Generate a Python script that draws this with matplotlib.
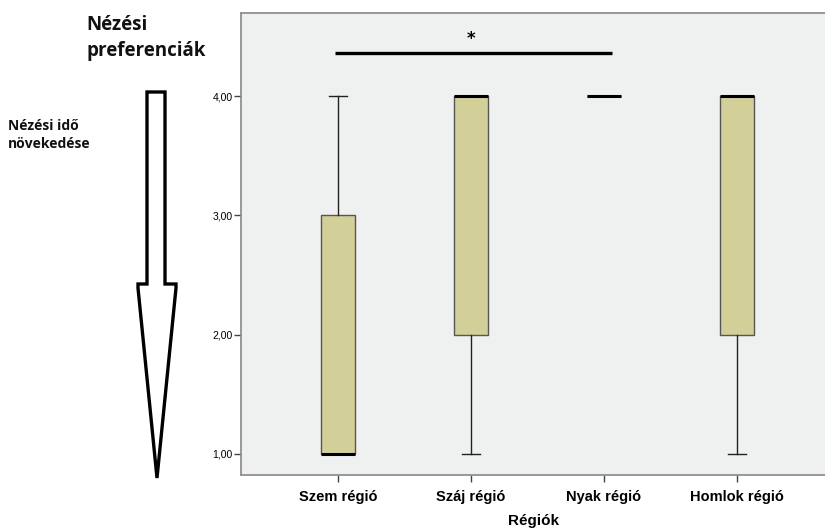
import matplotlib
matplotlib.use("Agg")
import matplotlib.pyplot as plt
from matplotlib.patches import Polygon

categories = ["Szem régió", "Száj régió", "Nyak régió", "Homlok régió"]
whislo = [1.0, 1.0, 4.0, 1.0]
q1 = [1.0, 2.0, 4.0, 2.0]
med = [1.0, 4.0, 4.0, 4.0]
q3 = [3.0, 4.0, 4.0, 4.0]
whishi = [4.0, 4.0, 4.0, 4.0]
yticks = [1.0, 2.0, 3.0, 4.0]
ytick_labels = ["1,00", "2,00", "3,00", "4,00"]
sig_from, sig_to, sig_label = "Szem régió", "Nyak régió", "*"

W, H = 825, 528
fig = plt.figure(figsize=(W / 100, H / 100), dpi=100)
left, right, top, bottom = 241, 827, 13, 475
ax = fig.add_axes([left / W, 1 - bottom / H, (right - left) / W, (bottom - top) / H])
ax.set_facecolor("#eff0f0")

stats = []
for i, c in enumerate(categories):
    stats.append(dict(label=c, whislo=whislo[i], q1=q1[i], med=med[i], q3=q3[i], whishi=whishi[i]))
pos = list(range(1, len(categories) + 1))
ax.bxp(stats, positions=pos, widths=0.25, showfliers=False, patch_artist=True,
       boxprops=dict(facecolor="#d3cf98", edgecolor="#555555", linewidth=1.0),
       medianprops=dict(color="black", linewidth=2.2),
       whiskerprops=dict(color="#222222", linewidth=1.0),
       capprops=dict(color="#222222", linewidth=1.0),
       capwidths=0.13)

step = 133.0
ax.set_xlim(1 - (338 - left) / step, 1 + (right - 338) / step)
ax.set_ylim(1 - (bottom - 454) / 119.3, 4 + (96 - top) / 119.3)
ax.set_yticks(yticks)
ax.set_yticklabels(ytick_labels, fontsize=7.5, family="Liberation Sans")
ax.set_xticks(pos)
ax.set_xticklabels(categories, fontsize=10.5, fontweight="bold",
                   family=["Liberation Sans Narrow", "Liberation Sans"])
ax.tick_params(axis="both", color="#444444", length=5, width=1)
ax.tick_params(axis="x", pad=6)
ax.tick_params(axis="y", pad=1)
for s in ["left", "top", "bottom"]:
    ax.spines[s].set_color("#888888")
    ax.spines[s].set_linewidth(1.2)
ax.spines["right"].set_visible(False)
ax.set_xlabel("Régiók", fontsize=11, fontweight="bold",
              family=["Liberation Sans Narrow", "Liberation Sans"], labelpad=7)

# significance bar
x0 = categories.index(sig_from) + 1 - 0.023
x1 = categories.index(sig_to) + 1 + 0.06
ax.plot([x0, x1], [4.36, 4.36], color="black", linewidth=2.4, solid_capstyle="butt")
ax.text((x0 + x1) / 2 - 0.02, 4.40, sig_label, ha="center", va="bottom", fontsize=12, fontweight="bold")

def px(x, y):
    return (x / W, 1 - y / H)

arrow_pts = [(147, 92), (165, 92), (165, 284), (176, 284), (176, 288),
             (157, 478), (138, 288), (138, 284), (147, 284)]
fig.patches.append(Polygon([px(x, y) for x, y in arrow_pts], closed=True,
                           transform=fig.transFigure, facecolor="white",
                           edgecolor="black", linewidth=2.4, joinstyle="miter"))

fig.text(86 / W, 1 - 38 / H, "Nézési\npreferenciák", fontsize=13.5, fontweight="bold",
         family="Open Sans", ha="left", va="center", linespacing=1.4, color="#111111")
fig.text(8 / W, 1 - 135 / H, "Nézési idő\nnövekedése", fontsize=10, fontweight="bold",
         family="Open Sans", ha="left", va="center", linespacing=1.3, color="#111111")

fig.savefig("out.png", dpi=100)
